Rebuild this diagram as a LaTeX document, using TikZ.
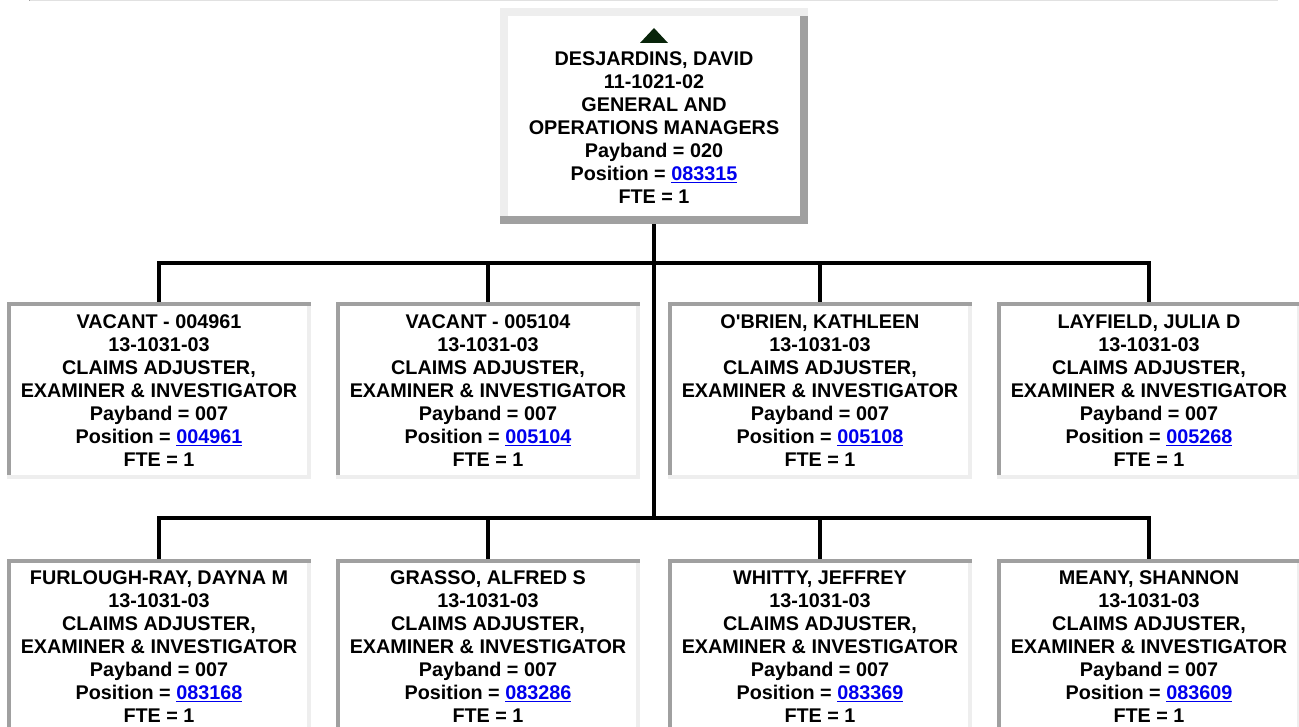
\documentclass[tikz,border=0pt]{standalone}
\usepackage{fontspec}
\newfontfamily\arialfam{Liberation Sans}
\definecolor{dkgray}{RGB}{160,160,160}
\definecolor{ltgray}{RGB}{238,238,238}
\definecolor{rulegray}{RGB}{225,225,225}
\definecolor{linkblue}{RGB}{0,0,238}
\definecolor{tricol}{RGB}{8,36,10}
\newcommand\lnk[1]{\textcolor{linkblue}{\underline{#1}}}
\newcommand\insetframe[1]{%
  \fill[dkgray] (#1.north west) rectangle ([yshift=-4pt]#1.north east);
  \fill[dkgray] ([yshift=-4pt]#1.north west) rectangle ([xshift=4pt,yshift=4pt]#1.south west);
  \fill[ltgray] ([yshift=-4pt]#1.north east) rectangle ([xshift=-4pt,yshift=4pt]#1.south east);
  \fill[ltgray] (#1.south west) rectangle ([yshift=4pt]#1.south east);
}
\begin{document}
\begin{tikzpicture}[x=1pt,y=-1pt,
  txt/.style={font=\arialfam\bfseries\fontsize{19.8}{23}\selectfont, align=center, inner sep=0pt},
  cbox/.style={txt, fill=white, minimum width=304pt, minimum height=176pt, outer sep=0pt},
  topbox/.style={fill=white, minimum width=308pt, minimum height=216pt, inner sep=0pt, outer sep=0pt},
  conn/.style={line width=4pt, line join=miter, black}]
\useasboundingbox (0,0) rectangle (1299,727);
\fill[white] (0,0) rectangle (1299,727);
% top rule
\draw[rulegray, line width=1pt] (29,0.5) -- (1278,0.5);
\fill[dkgray] (29,0) rectangle (30,1.5);

% coordinates of bus junctions
\coordinate (j1) at (654,263);
\coordinate (j2) at (654,518);

% top box
\node[topbox] (top) at (654,116) {};

% child box centres
\path
  (159,390.5) coordinate (p1) (488,390.5) coordinate (p2) (820,390.5) coordinate (p3) (1149,390.5) coordinate (p4)
  (159,646.5) coordinate (p5) (488,646.5) coordinate (p6) (820,646.5) coordinate (p7) (1149,646.5) coordinate (p8);

\node[cbox] (b1) at (p1) {VACANT - 004961\\13-1031-03\\CLAIMS ADJUSTER,\\EXAMINER \& INVESTIGATOR\\Payband = 007\\Position = \lnk{004961}\\FTE = 1};
\node[cbox] (b2) at (p2) {VACANT - 005104\\13-1031-03\\CLAIMS ADJUSTER,\\EXAMINER \& INVESTIGATOR\\Payband = 007\\Position = \lnk{005104}\\FTE = 1};
\node[cbox] (b3) at (p3) {O'BRIEN, KATHLEEN\\13-1031-03\\CLAIMS ADJUSTER,\\EXAMINER \& INVESTIGATOR\\Payband = 007\\Position = \lnk{005108}\\FTE = 1};
\node[cbox] (b4) at (p4) {LAYFIELD, JULIA D\\13-1031-03\\CLAIMS ADJUSTER,\\EXAMINER \& INVESTIGATOR\\Payband = 007\\Position = \lnk{005268}\\FTE = 1};
\node[cbox] (b5) at (p5) {FURLOUGH-RAY, DAYNA M\\13-1031-03\\CLAIMS ADJUSTER,\\EXAMINER \& INVESTIGATOR\\Payband = 007\\Position = \lnk{083168}\\FTE = 1};
\node[cbox] (b6) at (p6) {GRASSO, ALFRED S\\13-1031-03\\CLAIMS ADJUSTER,\\EXAMINER \& INVESTIGATOR\\Payband = 007\\Position = \lnk{083286}\\FTE = 1};
\node[cbox] (b7) at (p7) {WHITTY, JEFFREY\\13-1031-03\\CLAIMS ADJUSTER,\\EXAMINER \& INVESTIGATOR\\Payband = 007\\Position = \lnk{083369}\\FTE = 1};
\node[cbox] (b8) at (p8) {MEANY, SHANNON\\13-1031-03\\CLAIMS ADJUSTER,\\EXAMINER \& INVESTIGATOR\\Payband = 007\\Position = \lnk{083609}\\FTE = 1};

% connectors
\draw[conn] (top.south) -- (j2);
\draw[conn] (b1.north) |- (j1) -| (b4.north);
\draw[conn] (j1) -| (b2.north);
\draw[conn] (j1) -| (b3.north);
\draw[conn] (b5.north) |- (j2) -| (b8.north);
\draw[conn] (j2) -| (b6.north);
\draw[conn] (j2) -| (b7.north);

% frames
\insetframe{b1}\insetframe{b2}\insetframe{b3}\insetframe{b4}
\insetframe{b5}\insetframe{b6}\insetframe{b7}\insetframe{b8}

% top box outset frame
\fill[ltgray] (top.north west) rectangle ([yshift=-8pt]top.north east);
\fill[ltgray] (top.north west) rectangle ([xshift=8pt,yshift=8pt]top.south west);
\fill[dkgray] ([yshift=-8pt]top.north east) rectangle ([xshift=-8pt]top.south east);
\fill[dkgray] (top.south west) rectangle ([yshift=8pt]top.south east);

% triangle and text of top box
\fill[tricol] (640,43) -- (668,43) -- (654,28) -- cycle;
\node[txt] (toptext) at (654,127.5) {DESJARDINS, DAVID\\11-1021-02\\GENERAL AND\\OPERATIONS MANAGERS\\Payband = 020\\Position = \lnk{083315}\\FTE = 1};
\end{tikzpicture}
\end{document}
